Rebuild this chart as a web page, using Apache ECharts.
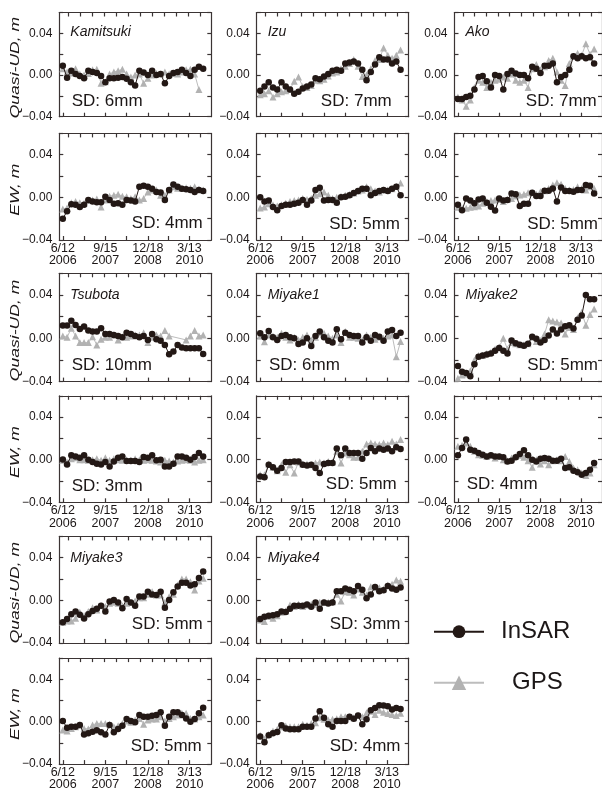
<!DOCTYPE html>
<html>
<head>
<meta charset="utf-8">
<script src="https://cdn.jsdelivr.net/npm/echarts@6/dist/echarts.min.js"></script>
<style>
html,body{margin:0;padding:0;background:#fff}
#chart{width:602px;height:793px}
</style>
</head>
<body>
<div id="chart"></div>
<script>
// Acquisition epochs, days after 2006-06-12
const days = [0,46,92,138,184,230,276,322,368,414,460,506,552,598,644,690,736,782,828,874,920,966,1012,1058,1104,1150,1196,1242,1288,1334,1380,1426,1472,1518];

// Date tick labels (days after 2006-06-12)
const xTickDays = [0,460,920,1370];
const xTickLabels = ['6/12\n2006','9/15\n2007','12/18\n2008','3/13\n2010'];
const bottomTickDays = [0,230,460,690,920,1145,1370];
const topTickDays = [56,186,316,446,576,706,836,966,1096,1226,1356,1486];

const stations = ['Kamitsuki','Izu','Ako','Tsubota','Miyake1','Miyake2','Miyake3','Miyake4'];
const sdUD = ['SD: 6mm','SD: 7mm','SD: 7mm','SD: 10mm','SD: 6mm','SD: 5mm','SD: 5mm','SD: 3mm'];
const sdEW = ['SD: 4mm','SD: 5mm','SD: 5mm','SD: 3mm','SD: 5mm','SD: 4mm','SD: 5mm','SD: 4mm'];

// Quasi-UD displacement, m
const kamitsukiUD_InSAR = [0.009,-0.0025,0.004,0.001,-0.001,-0.003,0.004,0.003,0.002,-0.001,-0.007,-0.003,-0.003,-0.0025,-0.002,-0.0035,-0.007,-0.010,0.004,0.0025,0,0.004,0,0.001,-0.008,-0.001,0.002,0.003,0.005,0.002,-0.001,0.005,0.008,0.006];
const kamitsukiUD_GPS = [0.006,0.003,0.002,0.006,0.001,0,0.0015,0.005,0.0055,-0.008,-0.0065,0.001,0.003,0.004,0.0055,0.001,-0.002,0,0.001,-0.008,-0.003,0,0.0015,0.001,0.003,0.001,0.0015,0.001,0.003,0.005,0.0055,0.001,-0.014,null];
const izuUD_InSAR = [-0.015,-0.011,-0.007,-0.012,-0.014,-0.007,-0.011,-0.014,-0.018,-0.016,-0.013,-0.011,-0.009,-0.003,-0.004,-0.0015,0.001,0.004,0.005,0.004,0.011,0.012,0.013,0.011,0.005,-0.005,0.003,0.010,0.017,0.015,0.015,0.011,0.013,0.005];
const izuUD_GPS = [-0.019,-0.018,-0.015,-0.021,-0.018,-0.016,-0.015,-0.014,-0.006,-0.002,-0.011,-0.012,-0.010,-0.005,-0.0055,-0.004,-0.001,0.002,0.003,0.006,0.0085,0.011,0.015,0.0085,-0.0015,0,0.006,0.014,0.015,0.026,0.019,0.016,0.019,0.024];
const akoUD_InSAR = [-0.023,-0.023,-0.021,-0.020,-0.014,-0.002,-0.001,-0.006,-0.012,0,-0.001,-0.014,0.001,0.004,0.0015,0,0,-0.003,0.008,0.006,0.002,0.009,0.009,0.011,-0.007,-0.002,0,0.005,0.018,0.016,0.018,0.016,0.017,0.011];
const akoUD_GPS = [-0.021,-0.024,-0.030,-0.024,-0.012,-0.005,-0.007,-0.012,-0.007,-0.005,-0.004,-0.002,-0.003,0.001,-0.005,-0.007,-0.005,-0.012,0.006,0.010,0.005,0.008,0.014,0.016,0.003,-0.005,-0.010,0.011,0.018,0.021,0.019,0.030,0.020,0.025];
const tsubotaUD_InSAR = [0.0117,0.0117,0.0163,0.0123,0.0086,0.0108,0.0071,0.0062,0.0062,0.0092,0.004,0.004,0.0031,0.0022,0.0009,0.0052,0.004,0.0022,0.0009,0.0022,-0.0015,0.004,-0.0009,-0.0022,-0.0062,-0.0148,-0.0123,-0.0062,-0.0086,-0.0092,-0.0092,-0.0092,-0.0092,-0.0145];
const tsubotaUD_GPS = [0.0022,0.0009,0.0092,0.0022,-0.004,-0.004,-0.004,0.0015,-0.0062,-0.0009,0.0009,0.0009,0.0031,-0.0015,0.0015,0.0009,0.0022,0.0031,0.0031,0.0052,-0.004,0.0009,0.0031,0.0022,0.0071,0.0022,null,null,null,-0.0015,0.0022,0.0071,0.0022,0.0031];
const miyake1UD_InSAR = [0.0046,0.0009,0.0068,0.0009,-0.0015,0.0022,0.0031,0.0009,0,-0.0052,-0.004,0,-0.0071,0.0022,0.0062,0.0009,-0.0022,-0.004,0.0083,-0.0009,0.0052,0.0031,0.0022,0.0022,-0.004,0.0009,-0.0022,0.0031,0.0015,-0.0022,0.0062,0.0077,0.002,0.005];
const miyake1UD_GPS = [0.0022,-0.0031,0.0031,0.0022,0.0009,0.0046,0.0009,-0.0015,0.0009,-0.0015,0.0009,0.0031,-0.0015,0.0009,0.0052,0.0046,0.0022,0,0.0031,-0.004,0.0062,0.0009,0.0009,0,-0.0015,0.0031,0.0009,-0.0009,0.0009,0,0.0022,0.0031,-0.017,-0.003];
const miyake2UD_InSAR = [-0.0255,-0.031,-0.032,-0.035,-0.024,-0.017,-0.016,-0.015,-0.014,-0.0115,-0.009,-0.0115,-0.014,-0.002,-0.0045,-0.006,-0.007,-0.005,0.0015,-0.0005,-0.004,-0.0015,0.0025,0.008,0.0045,0.008,0.011,0.012,0.009,0.017,0.021,0.040,0.036,0.036];
const miyake2UD_GPS = [-0.037,-0.034,-0.033,-0.030,-0.020,-0.016,-0.016,-0.014,-0.013,-0.010,-0.008,0.0,-0.010,-0.004,-0.005,-0.006,-0.006,-0.005,0.001,-0.003,-0.002,0.004,0.017,0.016,0.015,0.014,0.004,0.010,0.008,0.019,0.024,0.012,0.022,0.027];
const miyake3UD_InSAR = [-0.0205,-0.0175,-0.013,-0.0105,-0.0135,-0.017,-0.013,-0.010,-0.008,-0.005,-0.0105,-0.0012,0.0003,-0.002,-0.0075,0.0013,-0.002,-0.005,0.0035,0.0035,0.008,0.0055,0.005,0.008,-0.007,0.0003,0.0075,0.013,0.0165,0.0165,0.014,0.015,0.021,0.027];
const miyake3UD_GPS = [-0.0206,-0.0194,-0.0194,-0.0169,-0.0113,-0.0144,-0.0106,-0.0069,-0.0091,-0.005,-0.0059,-0.0028,-0.0019,-0.0028,-0.005,-0.0028,-0.0019,-0.0006,0.0025,0.0025,0.0056,0.0081,0.005,0.005,-0.0019,0.0034,0.0056,0.0144,0.02,0.02,0.0175,0.0097,0.0181,0.0206];
const miyake4UD_InSAR = [-0.0175,-0.0155,-0.0145,-0.014,-0.013,-0.0105,-0.011,-0.008,-0.005,-0.005,-0.005,-0.004,-0.006,-0.002,-0.008,-0.002,-0.003,-0.002,0.0085,0.0085,0.011,0.010,0.0085,0.0135,0.010,0.002,0.0055,0.0125,0.0085,0.0095,0.0135,0.011,0.010,0.012];
const miyake4UD_GPS = [-0.0184,-0.02,-0.0153,-0.0169,-0.0144,-0.0113,-0.01,-0.0044,-0.0059,-0.0038,-0.0059,-0.0044,-0.0038,-0.0038,-0.0019,-0.0019,-0.0019,-0.0013,0.0056,-0.0006,0.0081,0.0075,0.005,0.0106,0.0075,0.005,0.0128,0.0119,0.0119,0.0106,0.0144,0.015,0.0191,0.018];

// East-west displacement, m
const kamitsukiEW_InSAR = [-0.020,-0.013,-0.0065,-0.007,-0.009,-0.007,-0.0025,-0.004,-0.0045,-0.0045,0.0005,-0.0025,-0.006,-0.0055,-0.007,-0.0025,-0.003,-0.004,0.010,0.011,0.010,0.008,0.005,0.0045,-0.0025,0.007,0.012,0.010,0.008,0.0075,0.007,0.005,0.007,0.006];
const kamitsukiEW_GPS = [-0.011,-0.010,-0.005,-0.004,-0.005,-0.0055,-0.003,-0.0025,-0.0015,-0.009,-0.0025,0.001,0.002,0.003,0.001,0.0005,-0.001,0.0005,-0.0025,-0.001,0.005,0.007,0.007,0.002,0.002,0.007,0.010,0.0085,0.0085,0.009,0.0085,0.010,0.0075,0.007];
const izuEW_InSAR = [0,-0.004,-0.003,-0.009,-0.012,-0.008,-0.007,-0.007,-0.006,-0.005,-0.0025,-0.007,-0.003,0.007,0.009,-0.003,-0.0025,-0.0025,-0.005,0,0.0005,0.002,0.004,0.006,0.008,0.008,0.002,0.004,0.006,0.007,0.006,0.008,0.010,0.002];
const izuEW_GPS = [-0.010,-0.009,-0.006,-0.007,-0.008,-0.007,-0.0055,-0.004,-0.003,-0.0025,-0.001,-0.002,-0.001,0.002,0.0035,0.005,0.002,-0.001,0,0.001,0.002,0.003,0.004,0.006,0.007,0.010,0.008,0.006,0.005,0.007,0.007,0.008,0.0105,0.0135];
const akoEW_InSAR = [-0.007,-0.012,-0.001,-0.003,-0.0055,-0.002,-0.001,-0.005,-0.0087,-0.0124,-0.001,-0.003,-0.0025,0.0037,0.003,-0.008,-0.006,-0.006,0.0043,0.0012,0.0012,0.0062,0.0062,0.0084,-0.004,0.0093,0.0059,0.0059,0.0053,0.0068,0.0068,0.0115,0.0109,0.0037];
const akoEW_GPS = [-0.0093,-0.0102,-0.0102,-0.0093,-0.0087,-0.008,-0.0056,-0.004,-0.003,-0.0025,-0.0019,-0.004,-0.0019,-0.001,0.0012,0.0022,0.003,0.0043,0.0043,0.003,0.0053,0.0062,0.0084,0.0115,0.0136,0.0124,0.0084,0.0068,0.0074,0.0099,0.0084,0.0068,0.0099,0.0084];
const tsubotaEW_InSAR = [0.0003,-0.0044,0.0041,0.0031,0.0019,0.0041,0,-0.0022,-0.0038,-0.0044,-0.0022,-0.0063,-0.0016,0.0019,0.0031,-0.0013,-0.0013,-0.0013,-0.0022,0.0025,0.0019,0.0041,-0.0006,0,-0.0063,-0.0063,-0.0038,0.0031,0.0031,0.0019,0,0.0025,0.0063,0.0031];
const tsubotaEW_GPS = [-0.0006,-0.0022,0.0009,0.0019,0,0,-0.0006,0,0.0009,-0.0006,0.0019,-0.0006,0.0009,0,-0.0006,0,-0.0006,0.0009,0,-0.0006,0,-0.0006,-0.0013,-0.0022,-0.0006,-0.0013,-0.0022,-0.0013,-0.0006,0,-0.0006,-0.0022,-0.0006,0];
const miyake1EW_InSAR = [-0.0157,-0.0164,-0.0047,-0.0072,-0.0104,-0.0079,-0.0022,-0.0022,-0.0016,-0.0016,-0.0047,-0.0054,-0.0047,-0.0079,-0.0126,-0.0041,-0.0031,-0.0031,0.0104,0.0041,0.0104,0.0063,0.0063,0.0063,0.0009,0.0063,0.011,0.0079,0.0104,0.0094,0.0104,0.0079,0.0117,0.0101];
const miyake1EW_GPS = [-0.0142,-0.0142,-0.0041,-0.0072,-0.0104,-0.0047,-0.0117,-0.0047,-0.0126,-0.0022,-0.0041,-0.0041,-0.0047,-0.0031,-0.0022,-0.0031,-0.0016,-0.0022,0.0079,-0.0031,0.0063,0.0047,0.0022,0.0022,0.0079,0.0148,0.0157,0.0148,0.0142,0.0157,0.0142,0.0173,0.0148,0.0189];
const miyake2EW_InSAR = [0.0041,0.011,0.0189,0.0094,0.0085,0.0063,0.0047,0.0031,0.0041,0.0031,0.0031,0.0022,-0.0016,-0.0009,0.0022,0.0054,0.0088,0.0041,0,-0.0016,0.0009,0.0016,0.0009,-0.0009,-0.0009,0.0009,-0.0079,-0.0072,-0.0104,-0.0117,-0.0142,-0.0126,-0.0094,-0.0031];
const miyake2EW_GPS = [0.0126,0.0135,0.0157,0.0126,0.0079,0.0047,0.0041,0.0031,0.0041,0.0016,0.0031,0,-0.0009,0.0016,0.0031,0.0041,0.0022,-0.0009,-0.0072,0,-0.0041,-0.0009,-0.0047,-0.0009,0,-0.0009,0.0031,-0.0016,-0.0079,-0.0094,-0.0126,-0.0148,-0.0126,-0.0047];
const miyake3EW_InSAR = [0.0006,-0.0057,-0.0047,-0.0047,-0.003,-0.012,-0.011,-0.0095,-0.008,-0.010,-0.012,-0.003,-0.010,-0.007,-0.0038,0.0025,0.0006,-0.0006,0.0063,0.0047,0.0047,0.0057,0.0063,0.0088,-0.0038,0.0047,0.0088,0.0088,0.0063,0.0031,0,0.0025,0.0079,0.0132];
const miyake3EW_GPS = [-0.0079,-0.0088,-0.0063,-0.0047,-0.0031,-0.0063,-0.0069,-0.0031,-0.0016,-0.0016,-0.0016,-0.0025,-0.0047,-0.0038,-0.0016,0.0006,-0.0006,0.0016,0.0031,-0.0025,0.0016,0.0025,0.0025,0.0047,0.0006,0.0031,0.0047,0.0063,0.0079,0.0079,0.0031,0.0025,0.0047,0.0063];
const miyake4EW_InSAR = [-0.014,-0.0195,-0.0127,-0.0108,-0.0096,-0.0034,-0.0065,-0.0071,-0.0071,-0.0071,-0.0047,-0.0047,-0.0047,0.0031,0.0099,0.0037,-0.0025,-0.0047,0.0006,0.0006,0.0006,0.0047,0.0028,0.0059,-0.0025,0.0022,0.0109,0.013,0.0155,0.0152,0.0146,0.0115,0.013,0.012];
const miyake4EW_GPS = [-0.0127,-0.0164,-0.0118,-0.0087,-0.0071,-0.0047,-0.004,-0.0047,-0.0047,-0.0047,-0.0025,-0.0034,-0.0016,-0.0009,0.0037,0.0022,0.0016,0.0022,0.0028,0.0047,0.0047,0.0047,0.0037,0.0059,0.0047,0.0084,0.0099,0.0068,0.0109,0.009,0.0078,0.0068,0.0059,0.008];

// ---- layout of the 16 framed panels ----
const FONT = "'Liberation Sans', Arial, sans-serif";
const NARROW = "'Liberation Sans Narrow', 'Arial Narrow', 'Liberation Sans', sans-serif";
const colLeft = [59.3, 256.7, 454.5];
const boxW = 152;
const rowBox = [
  {top: 12.5, h: 104.2},
  {top: 133.4, h: 106.6},
  {top: 273.3, h: 108.3},
  {top: 395.8, h: 106.5},
  {top: 536.4, h: 106.5},
  {top: 658.1, h: 106}
];
const xMin = -38, xMax = 1606;
const frameColor = '#3b3434';
const textColor = '#1c1717';

// panel list: row, column, series arrays, station label index, SD label and its anchor
const panels = [
  {row:0,col:0,insar:kamitsukiUD_InSAR,gps:kamitsukiUD_GPS,st:0,sd:sdUD[0],sdAt:{x:71.7,y:101.7,a:'left'}},
  {row:0,col:1,insar:izuUD_InSAR,gps:izuUD_GPS,st:1,sd:sdUD[1],sdAt:{x:391.7,y:101.7,a:'right'}},
  {row:0,col:2,insar:akoUD_InSAR,gps:akoUD_GPS,st:2,sd:sdUD[2],sdAt:{x:596.7,y:101.7,a:'right'}},
  {row:1,col:0,insar:kamitsukiEW_InSAR,gps:kamitsukiEW_GPS,st:-1,sd:sdEW[0],sdAt:{x:202.7,y:223.5,a:'right'}},
  {row:1,col:1,insar:izuEW_InSAR,gps:izuEW_GPS,st:-1,sd:sdEW[1],sdAt:{x:400,y:224,a:'right'}},
  {row:1,col:2,insar:akoEW_InSAR,gps:akoEW_GPS,st:-1,sd:sdEW[2],sdAt:{x:598,y:224,a:'right'}},
  {row:2,col:0,insar:tsubotaUD_InSAR,gps:tsubotaUD_GPS,st:3,sd:sdUD[3],sdAt:{x:71.7,y:365,a:'left'}},
  {row:2,col:1,insar:miyake1UD_InSAR,gps:miyake1UD_GPS,st:4,sd:sdUD[4],sdAt:{x:269,y:365,a:'left'}},
  {row:2,col:2,insar:miyake2UD_InSAR,gps:miyake2UD_GPS,st:5,sd:sdUD[5],sdAt:{x:598,y:365,a:'right'}},
  {row:3,col:0,insar:tsubotaEW_InSAR,gps:tsubotaEW_GPS,st:-1,sd:sdEW[3],sdAt:{x:71.7,y:486.7,a:'left'}},
  {row:3,col:1,insar:miyake1EW_InSAR,gps:miyake1EW_GPS,st:-1,sd:sdEW[4],sdAt:{x:396.7,y:484.3,a:'right'}},
  {row:3,col:2,insar:miyake2EW_InSAR,gps:miyake2EW_GPS,st:-1,sd:sdEW[5],sdAt:{x:466.7,y:484.3,a:'left'}},
  {row:4,col:0,insar:miyake3UD_InSAR,gps:miyake3UD_GPS,st:6,sd:sdUD[6],sdAt:{x:202.7,y:624.3,a:'right'}},
  {row:4,col:1,insar:miyake4UD_InSAR,gps:miyake4UD_GPS,st:7,sd:sdUD[7],sdAt:{x:400.5,y:624.3,a:'right'}},
  {row:5,col:0,insar:miyake3EW_InSAR,gps:miyake3EW_GPS,st:-1,sd:sdEW[6],sdAt:{x:201.7,y:746.7,a:'right'}},
  {row:5,col:1,insar:miyake4EW_InSAR,gps:miyake4EW_GPS,st:-1,sd:sdEW[7],sdAt:{x:400.5,y:746.7,a:'right'}}
];

const frame = {color: frameColor, width: 1.2};

const grids = [], xAxes = [], yAxes = [], series = [], graphics = [];

panels.forEach((p, k) => {
  const rb = rowBox[p.row];
  const left = colLeft[p.col];
  const dated = p.row % 2 === 1;
  grids.push({left: left, top: rb.top, width: boxW, height: rb.h, containLabel: false});

  // bottom date axis
  xAxes.push({
    gridIndex: k, type: 'value', position: 'bottom', min: xMin, max: xMax,
    axisLine: {show: true, onZero: false, lineStyle: frame},
    axisTick: {show: true, inside: true, length: 4, customValues: bottomTickDays, lineStyle: frame},
    axisLabel: {
      show: dated, customValues: xTickDays, margin: 2,
      formatter: v => { const i = xTickDays.indexOf(Math.round(v)); return i >= 0 ? xTickLabels[i] : ''; },
      fontFamily: NARROW, fontSize: 12.5, lineHeight: 12.5, color: textColor
    },
    splitLine: {show: false}
  });
  // top frame edge
  xAxes.push({
    gridIndex: k, type: 'value', position: 'top', min: xMin, max: xMax,
    axisLine: {show: true, onZero: false, lineStyle: frame},
    axisTick: {show: true, inside: true, length: 4, customValues: topTickDays, lineStyle: frame},
    axisLabel: {show: false},
    splitLine: {show: false}
  });
  // left displacement axis
  yAxes.push({
    gridIndex: k, type: 'value', position: 'left', min: -0.04, max: 0.06, interval: 0.02,
    axisLine: {show: true, onZero: false, lineStyle: frame},
    axisTick: {show: true, inside: true, length: 4, lineStyle: frame},
    axisLabel: {
      margin: 7, fontFamily: FONT, fontSize: 12, color: textColor,
      formatter: v => {
        const c = Math.round(v * 100);
        if (c !== -4 && c !== 0 && c !== 4) return '';
        return (c < 0 ? '\u2212' : '') + Math.abs(v).toFixed(2);
      }
    },
    splitLine: {show: false}
  });
  // right frame edge
  yAxes.push({
    gridIndex: k, type: 'value', position: 'right', min: -0.04, max: 0.06, interval: 0.02,
    axisLine: {show: true, onZero: false, lineStyle: frame},
    axisTick: {show: true, inside: true, length: 4, lineStyle: frame},
    axisLabel: {show: false},
    splitLine: {show: false}
  });

  series.push({
    name: 'GPS', type: 'line', xAxisIndex: 2 * k, yAxisIndex: 2 * k,
    data: days.map((d, i) => [d, p.gps[i]]),
    connectNulls: true,
    symbol: 'triangle', symbolSize: 7,
    itemStyle: {color: '#b2b2b2'},
    lineStyle: {color: '#bdbdbd', width: 1},
    silent: true, animation: false, z: 2
  });
  series.push({
    name: 'InSAR', type: 'line', xAxisIndex: 2 * k, yAxisIndex: 2 * k,
    data: days.map((d, i) => [d, p.insar[i]]),
    symbol: 'circle', symbolSize: 6.5,
    itemStyle: {color: '#231815'},
    lineStyle: {color: '#231815', width: 1},
    silent: true, animation: false, z: 3
  });

  // station name
  if (p.st >= 0) {
    graphics.push({
      type: 'text', x: left + 11, y: rb.top + (p.row === 0 ? 19.2 : 21.7),
      style: {text: stations[p.st], fontFamily: FONT, fontStyle: 'italic', fontSize: 14,
              fill: textColor, textAlign: 'left', textVerticalAlign: 'middle'},
      silent: true
    });
  }
  // standard deviation note
  graphics.push({
    type: 'text', x: p.sdAt.x, y: p.sdAt.y,
    style: {text: p.sd, fontFamily: FONT, fontSize: 17, fill: textColor,
            textAlign: p.sdAt.a, textVerticalAlign: 'middle'},
    silent: true
  });
  // component name on the first column
  if (p.col === 0) {
    graphics.push({
      type: 'text', x: 15.5, y: rb.top + rb.h / 2 + 3,
      rotation: Math.PI / 2, scaleX: 1.35,
      style: {text: dated ? 'EW, m' : 'Quasi-UD, m', fontFamily: FONT, fontStyle: 'italic',
              fontSize: 13, fill: textColor, textAlign: 'center', textVerticalAlign: 'middle'},
      silent: true
    });
  }
});

const chart = echarts.init(document.getElementById('chart'), null, {renderer: 'canvas'});
chart.setOption({
  backgroundColor: '#ffffff',
  animation: false,
  grid: grids,
  xAxis: xAxes,
  yAxis: yAxes,
  series: series,
  graphic: graphics,
  legend: [
    {
      data: ['InSAR'], left: 433, top: 619.7, padding: 0, orient: 'horizontal',
      itemWidth: 50, itemHeight: 16, selectedMode: false,
      lineStyle: {width: 2},
      textStyle: {fontFamily: FONT, fontSize: 24, color: textColor, padding: [0, 0, 0, 12]}
    },
    {
      data: ['GPS'], left: 433, top: 670.7, padding: 0, orient: 'horizontal',
      itemWidth: 50, itemHeight: 18, selectedMode: false,
      lineStyle: {width: 2},
      textStyle: {fontFamily: FONT, fontSize: 24, color: textColor, padding: [0, 0, 0, 23]}
    }
  ]
});
</script>
</body>
</html>
